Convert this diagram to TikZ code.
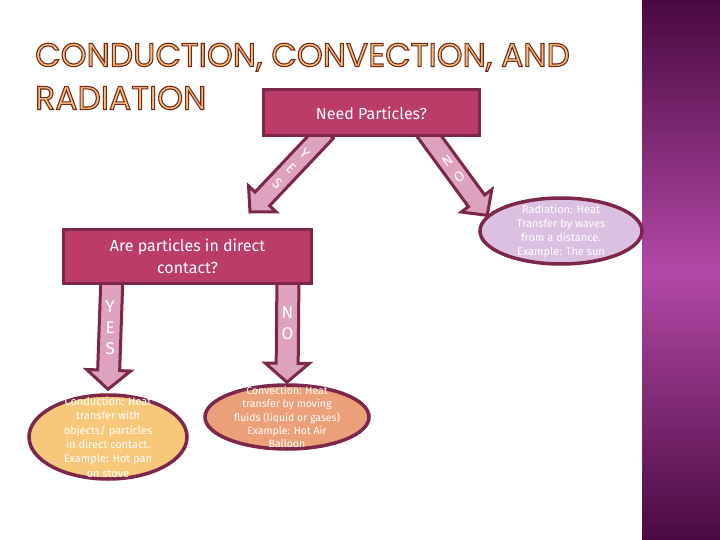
\documentclass[tikz,border=0pt]{standalone}
\usepackage{fontspec}
\setmainfont{Fira Sans}
\newfontfamily\titlefont{Poppins}
\usetikzlibrary{calc,shapes.geometric}
\definecolor{boxfill}{RGB}{187,60,104}
\definecolor{boxline}{RGB}{124,38,74}
\definecolor{arrowfill}{RGB}{220,162,190}
\definecolor{condfill}{RGB}{248,200,122}
\definecolor{convfill}{RGB}{236,160,122}
\definecolor{radfill}{RGB}{220,192,226}
\definecolor{barmid}{RGB}{178,72,166}
\definecolor{bardark}{RGB}{74,10,64}
\definecolor{titlefill}{RGB}{248,192,136}

\pgfdeclarelayer{back}
\pgfsetlayers{back,main}

% outlined title letters
\newcommand\outlined[1]{{\color{titlefill}\special{pdf:literal direct 2 Tr 1.1 w 0.45 0.17 0.08 RG}#1\special{pdf:literal direct 0 Tr}}}

% block arrow: name, tail, tip, rotation of letters, letters
\def\shaftw{10pt}\def\headw{19pt}\def\headl{18pt}\def\lblfont{\fontsize{14}{20}\selectfont}
\newcommand\blockarrow[5]{%
  \coordinate (#1h) at ($(#3)!\headl!(#2)$);
  \begin{pgfonlayer}{back}
    \draw[blockarr] ($(#2)!\shaftw!90:(#3)$) -- ($(#1h)!\shaftw!90:(#3)$)
      -- ($(#1h)!\headw!90:(#3)$) -- (#3) -- ($(#1h)!\headw!-90:(#3)$)
      -- ($(#1h)!\shaftw!-90:(#3)$) -- ($(#2)!\shaftw!-90:(#3)$) -- cycle;
  \end{pgfonlayer}
  \node[arrlabel, font=\lblfont, rotate=#4] (#1) at ($(#2)!0.55!(#1h)$) {#5};
}

\tikzset{
  qbox/.style={draw=boxline, fill=boxfill, line width=3pt, text=white, align=center,
    font=\fontsize{16}{22}\selectfont},
  answer/.style={ellipse, draw=boxline, line width=3.5pt, inner sep=0pt},
  anstext/.style={text=white, align=center, inner sep=0pt},
  blockarr/.style={draw=boxline, fill=arrowfill, line width=3pt, line join=miter},
  arrlabel/.style={text=white, align=center, inner sep=0pt},
}

\begin{document}
\begin{tikzpicture}[x=1pt, y=-1pt]
  \useasboundingbox (0,0) rectangle (720,540);
  \begin{pgfonlayer}{back}
    \fill[white] (0,0) rectangle (720,540);
  \end{pgfonlayer}
  \shade[top color=bardark, bottom color=bardark, middle color=barmid] (642,0) rectangle (720,540);

  %% title
  \node[anchor=north west, inner sep=0pt, align=left, font=\titlefont\fontsize{33}{43}\selectfont]
    (title) at (35,43) {\outlined{CONDUCTION, CONVECTION, AND}\\\outlined{RADIATION}};

  %% questions
  \node[qbox, minimum width=216pt, minimum height=46pt] (need) at (371.5,113) {Need Particles?};
  \node[qbox, minimum width=248pt, minimum height=54pt] (contact) at (187.5,256.5)
    {Are particles in direct\\contact?};

  %% answers
  \node[answer, fill=radfill, minimum width=162pt, minimum height=66pt] (rad) at (561,231) {};
  \node[anstext, font=\fontsize{11}{14}\selectfont] (radtxt) at (rad.center)
    {Radiation: Heat\\Transfer by waves\\from a distance.\\Example: The sun};
  \node[answer, fill=condfill, minimum width=158pt, minimum height=84pt] (cond) at (108,437) {};
  \node[anstext, font=\fontsize{11}{14.4}\selectfont] (condtxt) at (cond.center)
    {Conduction: Heat\\transfer with\\objects/ particles\\in direct contact.\\Example: Hot pan\\on stove};
  \node[answer, fill=convfill, minimum width=164pt, minimum height=64pt] (conv) at (287,417) {};
  \node[anstext, font=\fontsize{10.5}{13.2}\selectfont] (convtxt) at (conv.center)
    {Convection: Heat\\transfer by moving\\fluids (liquid or gases)\\Example: Hot Air\\Balloon};

  %% arrows
  \coordinate (yesAtail) at ($(need.south west)+(64,-6)$);
  \coordinate (noAtail) at ($(need.south east)+(-56,-7)$);
  \coordinate (yesAtip) at (250,212);
  \blockarrow{yesA}{yesAtail}{yesAtip}{-43}{Y\\E\\S}
  \blockarrow{noA}{noAtail}{rad.168}{36}{N\\O}

  \def\shaftw{11pt}\def\headw{22pt}\def\headl{19pt}\def\lblfont{\fontsize{17}{21}\selectfont}
  \coordinate (yesBtail) at ($(contact.south west)+(50,-10)$);
  \coordinate (noBtail) at ($(contact.south east)+(-25,-10)$);
  \coordinate (yesBtip) at ($(cond.north)+(0,-4)$);
  \coordinate (noBtip) at ($(conv.north)+(0,-1)$);
  \blockarrow{yesB}{yesBtail}{yesBtip}{0}{Y\\E\\S}
  \blockarrow{noB}{noBtail}{noBtip}{0}{N\\O}
\end{tikzpicture}
\end{document}
